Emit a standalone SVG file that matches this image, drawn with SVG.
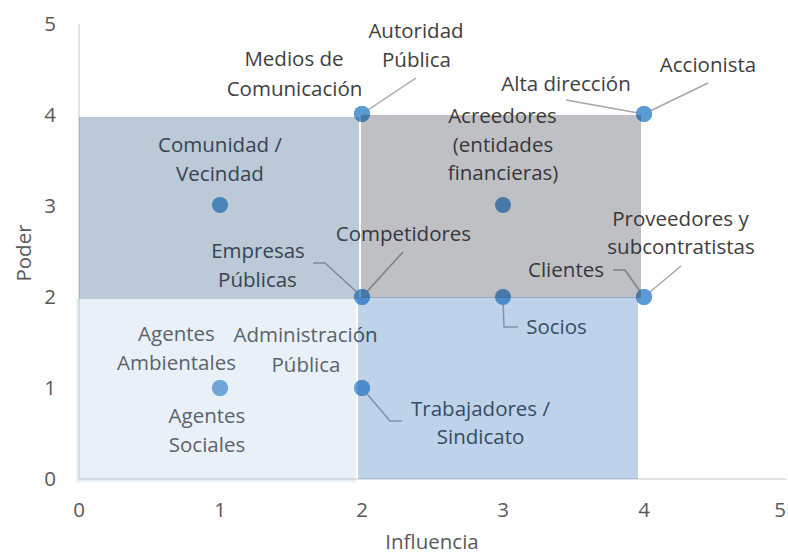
<svg xmlns="http://www.w3.org/2000/svg" width="788" height="557" viewBox="0 0 788 557">
<style>
text{font-family:"Open Sans","Noto Sans","Liberation Sans",sans-serif;font-size:20.5px;text-anchor:middle}
.lbl{fill:#404040}
.tick{fill:#595959}
.ttl{fill:#595959}
.pt{fill:#5b9bd5}
.ld{fill:none;stroke:#a6a6a6;stroke-width:1.5}
.ax{stroke:#d9d9d9;stroke-width:1.5;fill:none}
</style>
<rect width="788" height="557" fill="#ffffff"/>
<g id="axes">
<path class="ax" d="M79,24 V479 H786"/>
</g>
<g id="connectors">
<path class="ld" d="M416,78 L362,114"/>
<path class="ld" d="M566,100 L644,114"/>
<path class="ld" d="M708,83 L644,114"/>
<path class="ld" d="M313,263 L325,263 L362,297"/>
<path class="ld" d="M403,252 L362,297"/>
<path class="ld" d="M613,270 L625,270 L644,297"/>
<path class="ld" d="M681,266 L644,297"/>
<path class="ld" d="M503,297 L504,327 L518,327"/>
<path class="ld" d="M362,388 L390,421 L402,421"/>
</g>
<g id="node-medios"><circle class="pt" cx="362" cy="114" r="8"/><text class="lbl"><tspan x="294" y="66">Medios de</tspan><tspan x="294.5" y="96">Comunicación</tspan></text></g>
<g id="node-autoridad"><circle class="pt" cx="362" cy="114" r="8"/><text class="lbl"><tspan x="416" y="38">Autoridad</tspan><tspan x="416.5" y="67">Pública</tspan></text></g>
<g id="node-alta"><circle class="pt" cx="644" cy="114" r="8"/><text class="lbl" x="566" y="91">Alta dirección</text></g>
<g id="node-accionista"><circle class="pt" cx="644" cy="114" r="8"/><text class="lbl" x="708" y="72">Accionista</text></g>
<g id="node-comunidad"><circle class="pt" cx="220" cy="205" r="8"/><text class="lbl"><tspan x="220" y="152">Comunidad /</tspan><tspan x="220" y="181">Vecindad</tspan></text></g>
<g id="node-acreedores"><circle class="pt" cx="503" cy="205" r="8"/><text class="lbl"><tspan x="502.5" y="123">Acreedores</tspan><tspan x="503" y="152">(entidades</tspan><tspan x="503" y="180">financieras)</tspan></text></g>
<g id="node-empresas"><circle class="pt" cx="362" cy="297" r="8"/><text class="lbl"><tspan x="258" y="258">Empresas</tspan><tspan x="257.5" y="287">Públicas</tspan></text></g>
<g id="node-competidores"><circle class="pt" cx="362" cy="297" r="8"/><text class="lbl" x="403.5" y="241">Competidores</text></g>
<g id="node-proveedores"><circle class="pt" cx="644" cy="297" r="8"/><text class="lbl"><tspan x="680.5" y="226">Proveedores y</tspan><tspan x="681" y="254">subcontratistas</tspan></text></g>
<g id="node-clientes"><circle class="pt" cx="644" cy="297" r="8"/><text class="lbl" x="566" y="277">Clientes</text></g>
<g id="node-socios"><circle class="pt" cx="503" cy="297" r="8"/><text class="lbl" x="556.5" y="334">Socios</text></g>
<g id="node-administracion"><circle class="pt" cx="362" cy="388" r="8"/><text class="lbl"><tspan x="305.5" y="342">Administración</tspan><tspan x="306" y="372">Pública</tspan></text></g>
<g id="node-trabajadores"><circle class="pt" cx="362" cy="388" r="8"/><text class="lbl"><tspan x="480.5" y="416">Trabajadores /</tspan><tspan x="480.5" y="444">Sindicato</tspan></text></g>
<g id="node-ambientales"><circle class="pt" cx="220" cy="388" r="8"/><text class="lbl"><tspan x="176.5" y="341">Agentes</tspan><tspan x="176.5" y="370">Ambientales</tspan></text></g>
<g id="node-sociales"><circle class="pt" cx="220" cy="388" r="8"/><text class="lbl"><tspan x="207" y="423">Agentes</tspan><tspan x="207" y="452">Sociales</tspan></text></g>
<g id="quadrants">
<rect x="79" y="117" width="280" height="182" fill="#234e7c" fill-opacity="0.305"/>
<rect x="361" y="115" width="280" height="183" fill="#202331" fill-opacity="0.287"/>
<rect x="358" y="297" width="280" height="182" fill="#2169b4" fill-opacity="0.293"/>
<rect x="76" y="299" width="280" height="183" fill="#aac5e4" fill-opacity="0.26"/>
</g>
<g id="ticks">
<text class="tick" x="50" y="31">5</text>
<text class="tick" x="50" y="122">4</text>
<text class="tick" x="50" y="213">3</text>
<text class="tick" x="50" y="304">2</text>
<text class="tick" x="50" y="395">1</text>
<text class="tick" x="50" y="486">0</text>
<text class="tick" x="79" y="517">0</text>
<text class="tick" x="220" y="517">1</text>
<text class="tick" x="362" y="517">2</text>
<text class="tick" x="503" y="517">3</text>
<text class="tick" x="644" y="517">4</text>
<text class="tick" x="780" y="517">5</text>
</g>
<g id="titles">
<text class="ttl" x="432" y="549">Influencia</text>
<text class="ttl" transform="translate(31,253) rotate(-90)" x="0" y="0">Poder</text>
</g>
</svg>
